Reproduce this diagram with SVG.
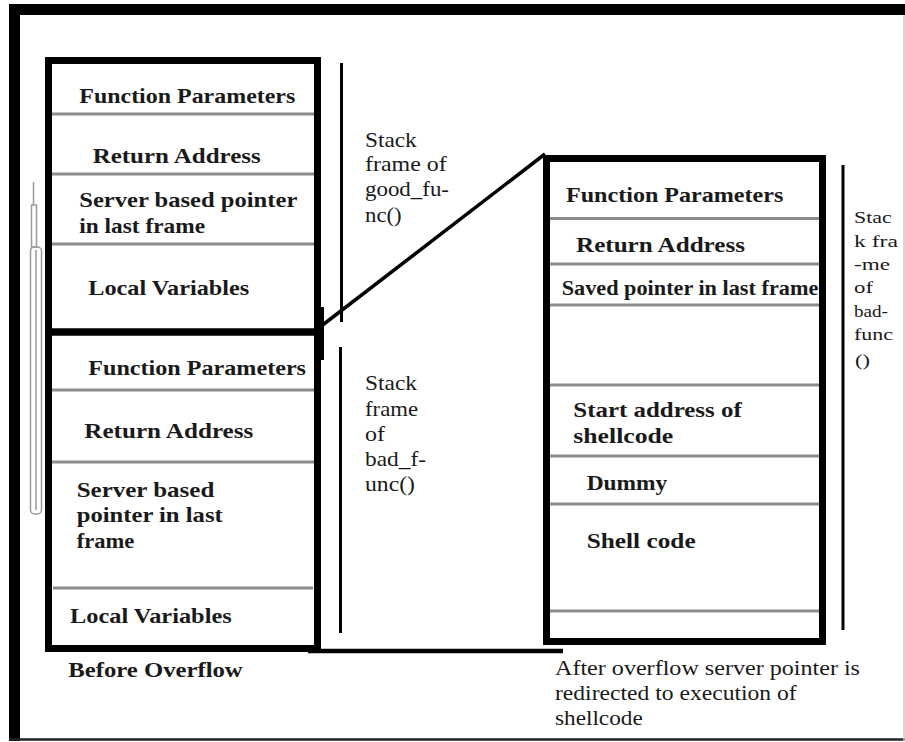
<svg xmlns="http://www.w3.org/2000/svg" width="905" height="742" viewBox="0 0 905 742">
<style>
.box{fill:none;stroke:#000;stroke-width:7}
.dv{stroke:#8c8c8c;stroke-width:3}
text{font-family:'Liberation Serif','DejaVu Serif','Times New Roman',serif;fill:#1a1a1a}
.lbl{font-size:21px;font-weight:bold}
.note{font-size:21px}
.sm{font-size:17.5px}
.br{stroke:#000;stroke-width:3}
.pill{fill:none;stroke:#9a9a9a;stroke-width:1.5}
</style>
<rect width="905" height="742" fill="#fff"/>
<g id="outer-frame">
<rect x="9" y="4" width="896" height="11" fill="#000"/>
<rect x="9" y="4" width="11" height="737" fill="#000"/>
<line x1="9" y1="739.5" x2="905" y2="739.5" stroke="#222" stroke-width="2.5"/>
<line x1="904" y1="15" x2="904" y2="741" stroke="#c8c8c8" stroke-width="1.5"/>
</g>
<g id="scrollbar">
<line class="pill" x1="33.5" y1="182" x2="33.5" y2="205"/>
<rect class="pill" x="31.5" y="205" width="5" height="42"/>
<rect class="pill" x="30.5" y="247" width="11" height="267" rx="4"/>
<line class="pill" x1="36" y1="250" x2="36" y2="510"/>
</g>
<g id="frame-good-func">
<rect class="box" x="48.5" y="60.5" width="269" height="271.5"/>
<line class="dv" x1="52" y1="114" x2="314" y2="114"/>
<line class="dv" x1="52" y1="174" x2="314" y2="174"/>
<line class="dv" x1="52" y1="244" x2="314" y2="244"/>
<text class="lbl" x="79.3" y="103.3" textLength="216" lengthAdjust="spacingAndGlyphs">Function Parameters</text>
<text class="lbl" x="92.7" y="162.7" textLength="168" lengthAdjust="spacingAndGlyphs">Return Address</text>
<text class="lbl" x="79.3" y="207.3" textLength="218" lengthAdjust="spacingAndGlyphs">Server based pointer</text>
<text class="lbl" x="79.3" y="232.7" textLength="125.7" lengthAdjust="spacingAndGlyphs">in last frame</text>
<text class="lbl" x="88.3" y="295" textLength="161" lengthAdjust="spacingAndGlyphs">Local Variables</text>
</g>
<g id="frame-bad-func">
<rect class="box" x="48.5" y="332" width="269" height="316.5"/>
<rect x="318" y="307" width="6" height="53" fill="#000"/>
<line class="dv" x1="52" y1="390" x2="314" y2="390"/>
<line class="dv" x1="52" y1="462" x2="314" y2="462"/>
<line class="dv" x1="53" y1="588" x2="313" y2="588"/>
<text class="lbl" x="88.3" y="375" textLength="217.7" lengthAdjust="spacingAndGlyphs">Function Parameters</text>
<text class="lbl" x="84.3" y="438.3" textLength="169" lengthAdjust="spacingAndGlyphs">Return Address</text>
<text class="lbl" x="76.7" y="496.7" textLength="137.6" lengthAdjust="spacingAndGlyphs">Server based</text>
<text class="lbl" x="76.7" y="522.3" textLength="146" lengthAdjust="spacingAndGlyphs">pointer in last</text>
<text class="lbl" x="76.7" y="547.7" textLength="57.6" lengthAdjust="spacingAndGlyphs">frame</text>
<text class="lbl" x="70" y="623.3" textLength="161.7" lengthAdjust="spacingAndGlyphs">Local Variables</text>
</g>
<g id="frame-after-overflow">
<rect class="box" x="546.5" y="158.5" width="276" height="483"/>
<line class="dv" x1="550" y1="218.5" x2="819" y2="218.5"/>
<line class="dv" x1="550" y1="264" x2="819" y2="264" stroke-width="4"/>
<line class="dv" x1="550" y1="305" x2="819" y2="305"/>
<line class="dv" x1="550" y1="385" x2="819" y2="385"/>
<line class="dv" x1="550" y1="456" x2="819" y2="456"/>
<line class="dv" x1="550" y1="504" x2="819" y2="504"/>
<line class="dv" x1="550" y1="611" x2="819" y2="611"/>
<text class="lbl" x="566" y="201.7" textLength="217.3" lengthAdjust="spacingAndGlyphs">Function Parameters</text>
<text class="lbl" x="576" y="251.7" textLength="169" lengthAdjust="spacingAndGlyphs">Return Address</text>
<text class="lbl" x="561.7" y="295" textLength="256.6" lengthAdjust="spacingAndGlyphs">Saved pointer in last frame</text>
<text class="lbl" x="573.3" y="417.3" textLength="168.4" lengthAdjust="spacingAndGlyphs">Start address of</text>
<text class="lbl" x="573.3" y="442.7" textLength="100" lengthAdjust="spacingAndGlyphs">shellcode</text>
<text class="lbl" x="586.7" y="490" textLength="80.6" lengthAdjust="spacingAndGlyphs">Dummy</text>
<text class="lbl" x="586.7" y="548.3" textLength="109" lengthAdjust="spacingAndGlyphs">Shell code</text>
</g>
<g id="brackets">
<line class="br" x1="341.5" y1="63" x2="341.5" y2="322"/>
<line class="br" x1="340.5" y1="347" x2="340.5" y2="633"/>
<line class="br" x1="843" y1="165" x2="843" y2="630" stroke-width="5"/>
</g>
<g id="label-good-func">
<text class="note" x="365" y="146.7" textLength="51.7" lengthAdjust="spacingAndGlyphs">Stack</text>
<text class="note" x="365" y="170.7" textLength="81.7" lengthAdjust="spacingAndGlyphs">frame of</text>
<text class="note" x="365" y="196" textLength="84" lengthAdjust="spacingAndGlyphs">good_fu-</text>
<text class="note" x="365" y="221.7" textLength="36.7" lengthAdjust="spacingAndGlyphs">nc()</text>
</g>
<g id="label-bad-func">
<text class="note" x="365" y="390" textLength="52" lengthAdjust="spacingAndGlyphs">Stack</text>
<text class="note" x="365" y="416" textLength="53" lengthAdjust="spacingAndGlyphs">frame</text>
<text class="note" x="365" y="441" textLength="20" lengthAdjust="spacingAndGlyphs">of</text>
<text class="note" x="365" y="466" textLength="61" lengthAdjust="spacingAndGlyphs">bad_f-</text>
<text class="note" x="365" y="491" textLength="50" lengthAdjust="spacingAndGlyphs">unc()</text>
</g>
<g id="label-bad-func-right">
<text class="sm" x="854" y="223.3" textLength="37.7" lengthAdjust="spacingAndGlyphs">Stac</text>
<text class="sm" x="854" y="246.7" textLength="44" lengthAdjust="spacingAndGlyphs">k fra</text>
<text class="sm" x="854" y="270" textLength="36" lengthAdjust="spacingAndGlyphs">-me</text>
<text class="sm" x="854" y="293.3" textLength="19" lengthAdjust="spacingAndGlyphs">of</text>
<text class="sm" x="854" y="316.7" textLength="34" lengthAdjust="spacingAndGlyphs">bad-</text>
<text class="sm" x="854" y="340" textLength="39" lengthAdjust="spacingAndGlyphs">func</text>
<text class="sm" x="855" y="366" textLength="15" lengthAdjust="spacingAndGlyphs">()</text>
</g>
<g id="captions">
<text class="lbl" x="68.3" y="677.3" textLength="174.4" lengthAdjust="spacingAndGlyphs">Before Overflow</text>
<text class="note" x="555" y="675" textLength="305" lengthAdjust="spacingAndGlyphs">After overflow server pointer is</text>
<text class="note" x="555" y="700" textLength="241.7" lengthAdjust="spacingAndGlyphs">redirected to execution of</text>
<text class="note" x="555" y="725" textLength="87.7" lengthAdjust="spacingAndGlyphs">shellcode</text>
</g>
<g id="connectors">
<line x1="320" y1="327" x2="545" y2="154" stroke="#000" stroke-width="3.5"/>
<line x1="308" y1="651" x2="563" y2="651" stroke="#000" stroke-width="4.5"/>
</g>
</svg>
